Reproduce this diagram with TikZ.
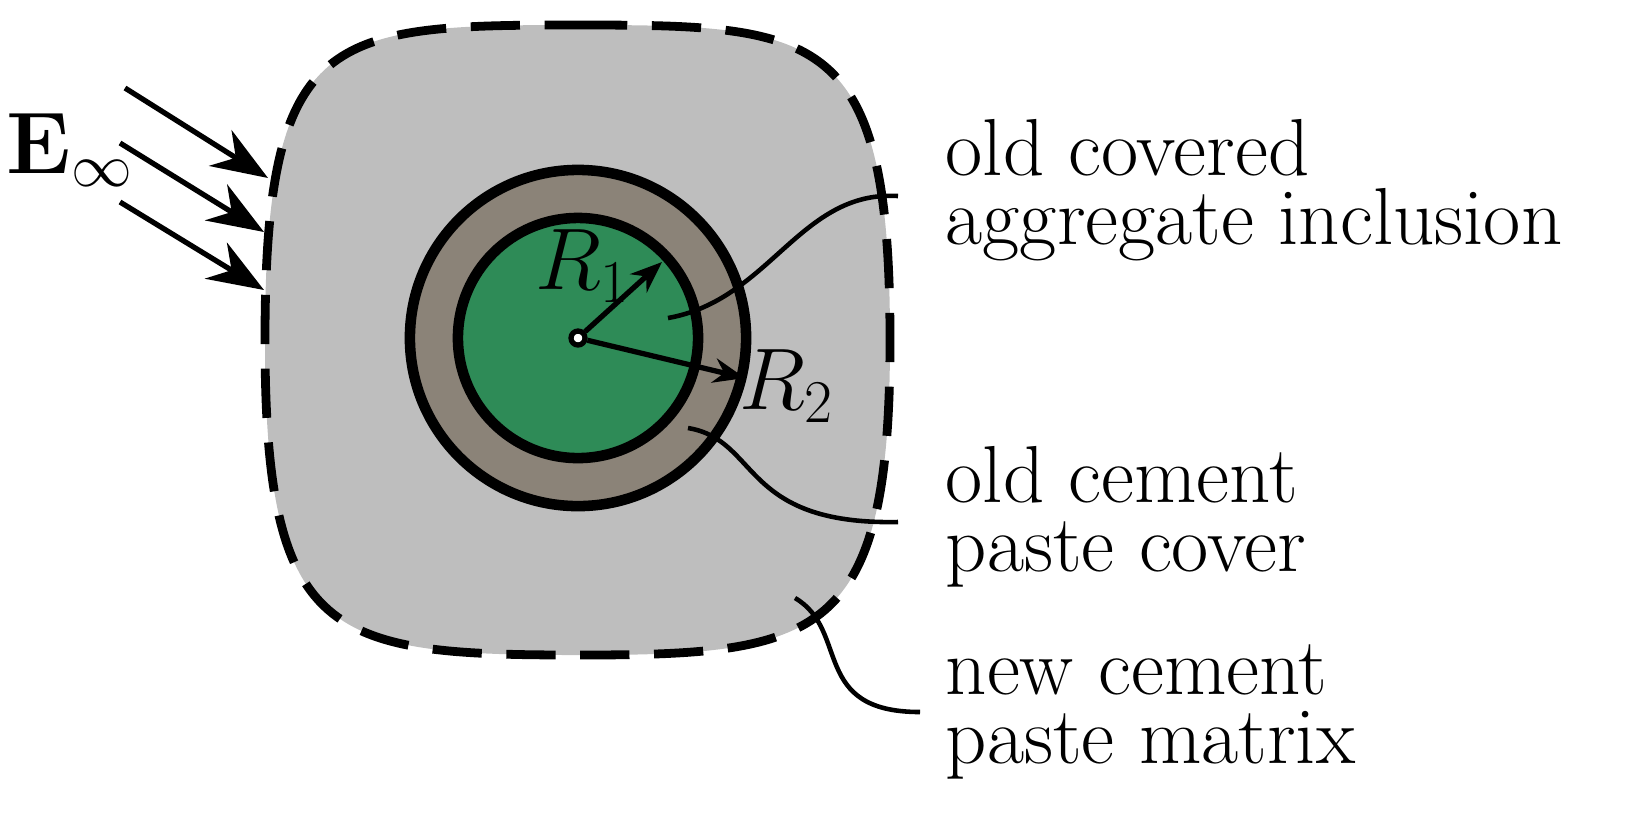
\documentclass[tikz,border=0pt]{standalone}
\usetikzlibrary{arrows.meta}
\definecolor{matrixgray}{RGB}{190,190,190}
\definecolor{covergray}{RGB}{139,131,120}
\definecolor{aggreen}{RGB}{46,139,87}
\begin{document}
\begin{tikzpicture}[x=0.01cm,y=-0.01cm,
  lbl/.style={font=\fontsize{23}{19.5}\selectfont,align=left,anchor=west,inner sep=0pt},
  leader/.style={line width=1.3pt},
  inc/.style={-{Stealth[length=16pt,width=12pt]},line width=1.5pt},
  rad/.style={-{Stealth[length=9pt,width=7pt]},line width=1.5pt}]
\useasboundingbox (0,0) rectangle (1649,829);
% matrix
\path[fill=matrixgray,draw=black,line width=2.5pt,dash pattern=on 14pt off 7pt]
  (578,25) .. controls (820,25) and (890,30) .. (890,340)
  .. controls (890,640) and (820,655) .. (578,655)
  .. controls (330,655) and (265,640) .. (265,340)
  .. controls (265,30) and (330,25) .. (578,25) -- cycle;
\node[circle,minimum size=3.36cm,inner sep=0,fill=covergray,draw=black,line width=3pt] (cover) at (578,338) {};
\node[circle,minimum size=2.4cm,inner sep=0,fill=aggreen,draw=black,line width=3pt] (agg) at (578,338) {};
\node[circle,minimum size=0.14cm,inner sep=0,fill=white,draw=black,line width=1.5pt] (c) at (578,338) {};
\coordinate (r1) at (662,262);
\coordinate (r2) at (745,378);
\draw[rad] (c) -- (r1);
\draw[rad] (c) -- (r2);
\node[font=\fontsize{23}{24}\selectfont] (R1) at (583,266) {$R_1$};
\node[font=\fontsize{23}{24}\selectfont] (R2) at (787,386) {$R_2$};
% incoming field
\node[font=\fontsize{23}{24}\selectfont] (E) at (70,150) {$\mathbf{E}_\infty$};
\coordinate (a1s) at (125,88); \coordinate (a1e) at (268,178);
\coordinate (a2s) at (120,143); \coordinate (a2e) at (264,232);
\coordinate (a3s) at (120,202); \coordinate (a3e) at (264,290);
\draw[inc] (a1s) -- (a1e);
\draw[inc] (a2s) -- (a2e);
\draw[inc] (a3s) -- (a3e);
% labels
\node[lbl] (t1) at (945,190) {old covered\\aggregate inclusion};
\node[lbl] (t2) at (945,517) {old cement\\paste cover};
\node[lbl] (t3) at (945,712) {new cement\\paste matrix};
\coordinate (p1) at (668,318); \coordinate (q1) at (898,196);
\coordinate (p2) at (688,428); \coordinate (q2) at (898,522);
\coordinate (p3) at (795,598); \coordinate (q3) at (920,712);
\draw[leader] (p1) .. controls (770,300) and (800,190) .. (q1);
\draw[leader] (p2) .. controls (760,440) and (740,525) .. (q2);
\draw[leader] (p3) .. controls (850,630) and (810,712) .. (q3);
\end{tikzpicture}
\end{document}
